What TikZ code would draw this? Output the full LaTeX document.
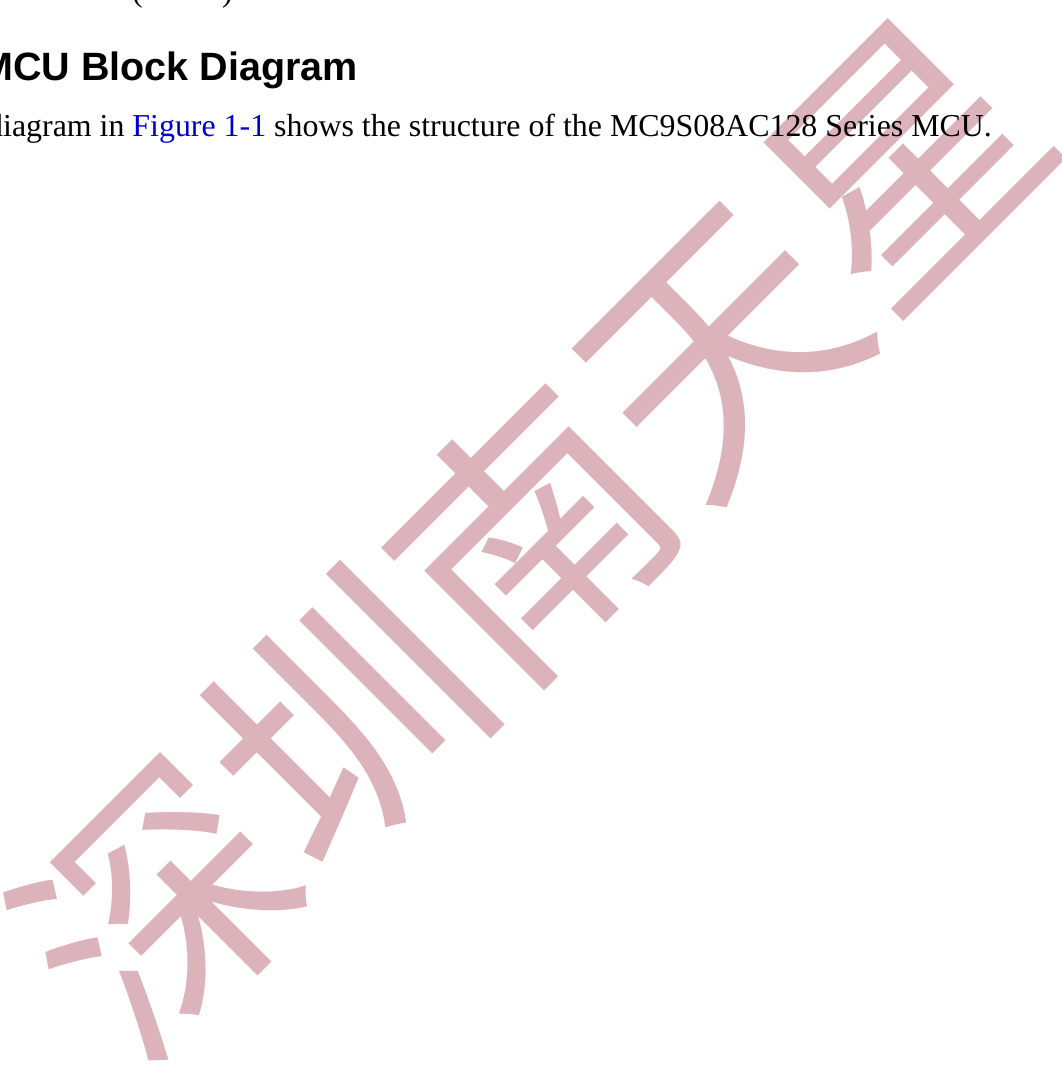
\documentclass[tikz,border=0pt]{standalone}
\usepackage{fontspec}
\setmainfont{Liberation Serif}
\setsansfont{Liberation Sans}
\newfontfamily\cjkfont{Noto Sans CJK SC}
\definecolor{wmpink}{RGB}{220,178,187}
\definecolor{linkblue}{RGB}{0,0,204}
\tikzset{
  watermark/.style={inner sep=0pt, rotate=45, text=wmpink, font=\cjkfont\fontsize{264}{264}\selectfont},
  headingtext/.style={inner sep=0pt, anchor=base west, font=\sffamily\bfseries\fontsize{39.5}{46}\selectfont},
  bodytext/.style={inner sep=0pt, anchor=base west, font=\fontsize{31.9}{38}\selectfont}
}
\begin{document}
\begin{tikzpicture}[x=1pt,y=1pt]
\useasboundingbox (0,0) rectangle (1061,1078);
\clip (0,0) rectangle (1061,1078);
\fill[white] (0,0) rectangle (1061,1078);
\node[watermark] (wm) at (531,545) {深圳南天星};
\node[bodytext] (lp) at (132,1076) {(};
\node[bodytext] (rp) at (222,1076) {)};
\node[headingtext] (head) at (-20,997) {MCU Block Diagram};
\node[bodytext] (body) at (-13,941) {diagram in \textcolor{linkblue}{Figure 1-1} shows the structure of the MC9S08AC128 Series MCU.};
\end{tikzpicture}
\end{document}
